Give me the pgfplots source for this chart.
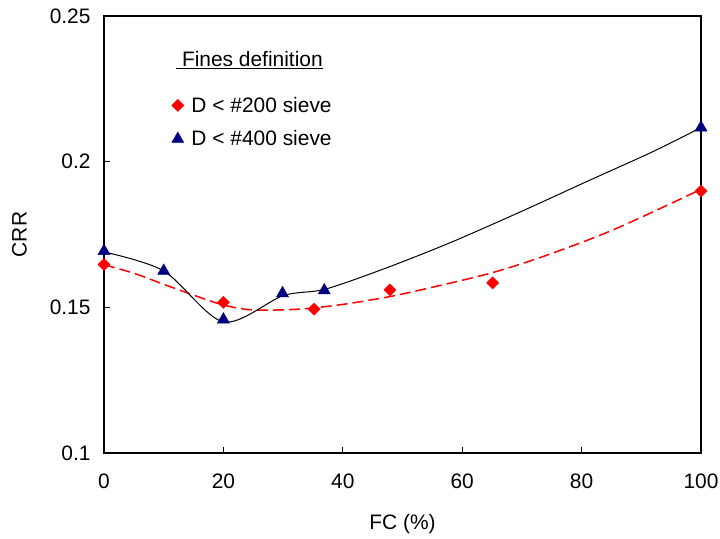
\documentclass[border=0pt]{standalone}
\usepackage{fontspec}
\setmainfont{Liberation Sans}
\usepackage{pgfplots}
\pgfplotsset{compat=1.18}
\definecolor{navyb}{RGB}{0,0,128}
\newcommand{\chartfont}{\fontsize{21}{25}\selectfont}
\begin{document}
\begin{tikzpicture}
\path[use as bounding box] (0,0) rectangle (720bp,539bp);
\begin{axis}[
    at={(104bp,86bp)}, anchor=south west,
    scale only axis,
    width=597bp, height=437bp,
    xmin=0, xmax=100,
    ymin=0.1, ymax=0.25,
    xtick={0,20,...,100},
    ytick={0.1,0.15,0.2,0.25},
    yticklabels={0.1,0.15,0.2,0.25},
    tick pos=left,
    tick align=inside,
    major tick length=6bp,
    axis line style={line width=1.2bp},
    tick style={black, line width=0.8bp},
    /pgf/number format/assume math mode=true,
    tick label style={font=\chartfont},
    label style={font=\chartfont},
    xticklabel style={yshift=-17bp},
    yticklabel style={xshift=-10bp},
    xlabel={FC (\%)},
    ylabel={CRR},
    xlabel style={yshift=-19bp},
    ylabel style={yshift=16bp},
    legend style={at={(0.1131,0.8195)}, anchor=north west, draw=none, fill=none,
        font=\chartfont, inner sep=0pt, row sep=13bp, cells={anchor=west}},
    legend image code/.code={\draw[#1] plot coordinates {(0cm,0cm)}; \path (11.5bp,0bp);},
]

% polynomial trendline, D < #200
\addplot[red, line width=1.5bp, dash pattern=on 11bp off 5bp, smooth, forget plot] coordinates {
    (0,0.1646) (5,0.1617) (10,0.1579) (15,0.1542) (20,0.1508) (25,0.1491)
    (32.8,0.1494) (40,0.1510) (47.9,0.1537) (55,0.1569) (64.7,0.1617)
    (73.5,0.1674) (85.3,0.1766) (100,0.1905)
};

% smoothed line, D < #400
\addplot[black, line width=1bp, smooth, forget plot] coordinates {
    (0,0.169) (10,0.1625) (20,0.1450) (30,0.1540) (37,0.1562) (47,0.1633)
    (58,0.1722) (70,0.1830) (81,0.1933) (92,0.2035) (100,0.2117)
};

\addplot[only marks, mark=square*, mark size=4.3bp, mark options={rotate=45, red, draw=red}] coordinates {
    (0,0.1647) (20,0.1517) (35.2,0.1494) (47.9,0.1560) (65.1,0.1584) (100,0.1899)
};
\addlegendentry{D < \#200 sieve}

\addplot[only marks, mark=triangle*, mark size=7bp, mark options={navyb, draw=navyb}] coordinates {
    (0,0.1693) (10,0.1625) (20,0.1458) (29.9,0.1548) (36.9,0.1558) (100,0.2117)
};
\addlegendentry{D < \#400 sieve}

\node[anchor=base west, inner sep=0pt, font=\chartfont] at (axis cs:12.06,0.2325) {\underline{\ Fines definition}};
\end{axis}
\end{tikzpicture}
\end{document}
